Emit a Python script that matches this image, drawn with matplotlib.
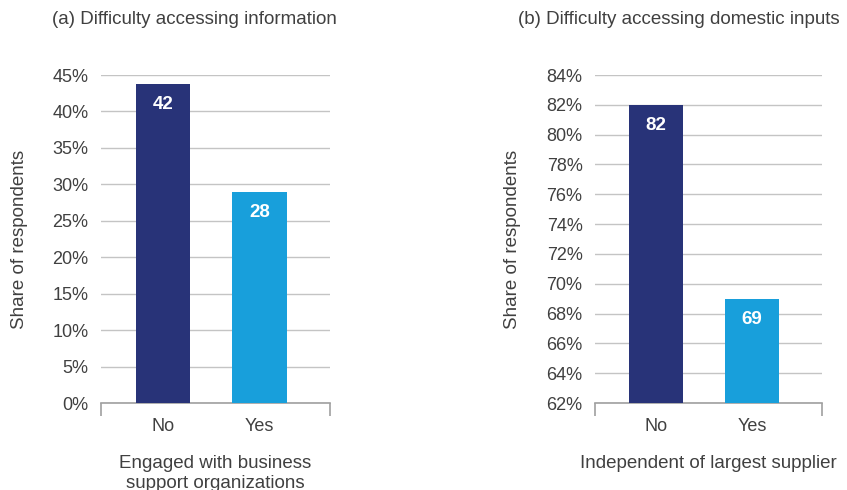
import matplotlib
matplotlib.use("Agg")
import matplotlib.pyplot as plt
from matplotlib.ticker import FuncFormatter
import numpy as np

plt.rcParams['font.family'] = ['Liberation Sans', 'DejaVu Sans']

categories = ["No", "Yes"]
# panel (a)
a_heights = [43.8, 29.0]
a_labels = ["42", "28"]
# panel (b)
b_heights = [82.0, 69.0]
b_labels = ["82", "69"]

colors = ["#283378", "#189fdb"]
text_col = "#404040"
grid_col = "#c4c4c4"

fig = plt.figure(figsize=(8.47, 4.90), dpi=100)
W, H = 847, 490

def px_axes(x0, x1, y0, y1):
    return fig.add_axes([x0 / W, 1 - y1 / H, (x1 - x0) / W, (y1 - y0) / H])

def style(ax, heights, labels, ylim, step, xlabel, title, title_x, ylab_x):
    xs = list(range(len(categories)))
    ax.bar(xs, heights, width=0.56, color=colors, zorder=3)
    ax.set_xlim(-0.64, 1.73)
    ax.set_ylim(*ylim)
    ax.set_yticks(np.arange(ylim[0], ylim[1] + 0.001, step))
    ax.yaxis.set_major_formatter(FuncFormatter(lambda v, p: f"{v:.0f}%"))
    ax.grid(axis='y', color=grid_col, linewidth=1.0, zorder=0)
    for s in ['top', 'left', 'right']:
        ax.spines[s].set_visible(False)
    ax.spines['bottom'].set_color("#a0a0a0")
    ax.spines['bottom'].set_linewidth(1.2)
    ax.set_xticks(xs)
    ax.set_xticklabels(categories)
    ax.set_xticks([-0.64, 1.73], minor=True)
    ax.tick_params(axis='x', which='major', length=0, pad=11, labelsize=13, labelcolor=text_col)
    ax.tick_params(axis='x', which='minor', length=9, width=1.2, color="#a0a0a0", direction='out')
    ax.tick_params(axis='y', length=0, pad=9, labelsize=13, labelcolor=text_col)
    ax.set_xlabel(xlabel, fontsize=13.5, color=text_col, labelpad=14, linespacing=1.25)
    ax.set_ylabel("Share of respondents", fontsize=13.5, color=text_col)
    pos = ax.get_position()
    ax.yaxis.set_label_coords((ylab_x - pos.x0 * W) / (pos.width * W), 0.5)
    for x, h, lab in zip(xs, heights, labels):
        ax.annotate(lab, (x, h), xytext=(0, -15), textcoords='offset points',
                    ha='center', va='center', color='white',
                    fontsize=13.5, fontweight='bold', zorder=4)
    fig.text(title_x / W, 1 - 20 / H, title, ha='center', va='center', fontsize=13.5, color=text_col)

ax1 = px_axes(101, 330, 75, 403)
style(ax1, a_heights, a_labels, (0, 45), 5,
      "Engaged with business\nsupport organizations",
      "(a) Difficulty accessing information", 194, 28)

ax2 = px_axes(595, 822, 75, 403)
style(ax2, b_heights, b_labels, (62, 84), 2,
      "Independent of largest supplier",
      "(b) Difficulty accessing domestic inputs", 679, 521)

fig.savefig("out.png", dpi=100)
